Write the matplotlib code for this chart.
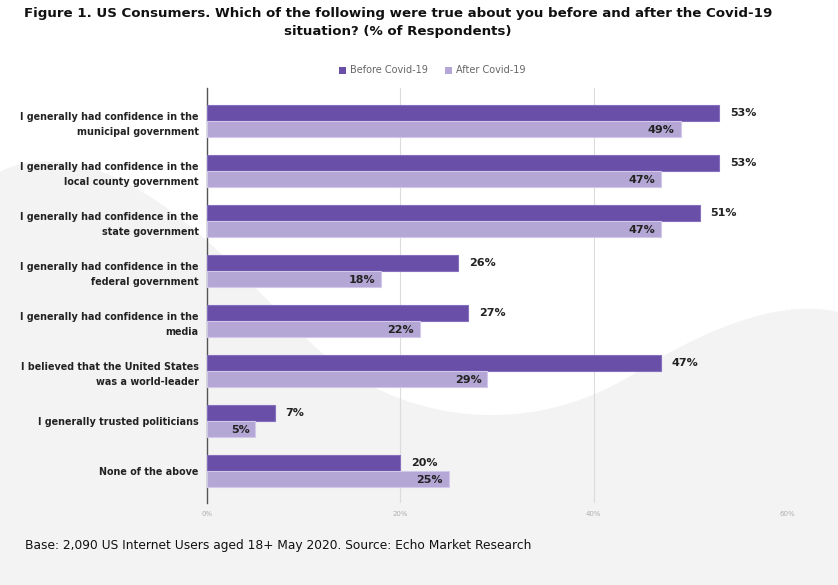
import numpy as np
import matplotlib
matplotlib.use("Agg")
import matplotlib.pyplot as plt
from matplotlib.path import Path
from matplotlib.patches import PathPatch, Rectangle

categories = [
    "I generally had confidence in the\nmunicipal government",
    "I generally had confidence in the\nlocal county government",
    "I generally had confidence in the\nstate government",
    "I generally had confidence in the\nfederal government",
    "I generally had confidence in the\nmedia",
    "I believed that the United States\nwas a world-leader",
    "I generally trusted politicians",
    "None of the above",
]
before = [53, 53, 51, 26, 27, 47, 7, 20]
after = [49, 47, 47, 18, 22, 29, 5, 25]
series_names = ["Before Covid-19", "After Covid-19"]
x_ticks = [0, 20, 40, 60]

C_BEFORE = "#6a4fa8"
C_AFTER = "#b4a7d6"
BG_GREY = "#f3f3f3"

W, H = 838, 585
fig = plt.figure(figsize=(W / 100, H / 100), dpi=100)
fig.patch.set_facecolor("white")

# background swoosh, drawn in pixel coords
bg = fig.add_axes([0, 0, 1, 1], zorder=-10)
bg.set_xlim(0, W)
bg.set_ylim(H, 0)
bg.axis("off")
verts = [
    (0, 172),
    (20, 160), (60, 155), (110, 175),
    (200, 215), (260, 300), (330, 360),
    (420, 428), (540, 435), (640, 370),
    (720, 320), (790, 300), (838, 312),
    (838, H), (0, H), (0, 172),
]
codes = [Path.MOVETO] + [Path.CURVE4] * 12 + [Path.LINETO, Path.LINETO, Path.CLOSEPOLY]
bg.add_patch(PathPatch(Path(verts, codes), facecolor=BG_GREY, edgecolor="none"))

ax = fig.add_axes([207 / W, 1 - 503 / H, (787 - 207) / W, (503 - 88) / H])
ax.patch.set_alpha(0)

n = len(categories)
y = np.arange(n)
h = 0.32
ax.barh(y - h / 2, before, height=h, color=C_BEFORE, edgecolor="#8470bd", linewidth=0.8, zorder=3)
ax.barh(y + h / 2, after, height=h, color=C_AFTER, edgecolor="#d2c9ea", linewidth=0.8, zorder=3)

for i in range(n):
    ax.text(before[i] + 1.1, y[i] - h / 2, f"{before[i]}%", va="center", ha="left",
            fontsize=8, fontweight="bold", color="#222222", zorder=4)
    ax.text(after[i] - 0.6, y[i] + h / 2 + 0.02, f"{after[i]}%", va="center", ha="right",
            fontsize=8, fontweight="bold", color="#222222", zorder=4)

ax.set_xlim(0, 60)
ax.set_ylim(n - 0.35, -0.65)
ax.set_yticks(y)
ax.set_yticklabels(categories, fontsize=6.9, fontweight="bold", color="#222222", linespacing=1.7)
ax.set_xticks(x_ticks)
ax.set_xticklabels([f"{t}%" for t in x_ticks], fontsize=5, color="#b0b0b0")
ax.tick_params(axis="both", length=0)
ax.tick_params(axis="y", pad=6)
ax.tick_params(axis="x", pad=6)
ax.grid(axis="x", color="#dcdcdc", linewidth=0.8, zorder=0)
for s in ["top", "right", "bottom"]:
    ax.spines[s].set_visible(False)
ax.spines["left"].set_color("#555555")
ax.spines["left"].set_linewidth(1)

# legend
leg_y = 1 - 70 / H
for x0, name, col in [(339, series_names[0], C_BEFORE), (445, series_names[1], C_AFTER)]:
    fig.patches.append(Rectangle((x0 / W, leg_y - 3.5 / H), 7 / W, 7 / H, transform=fig.transFigure,
                                 facecolor=col, edgecolor="none"))
    fig.text((x0 + 11) / W, leg_y, name, fontsize=7, color="#666666", va="center", ha="left")

fig.text(0.475, 1 - 7 / H, "Figure 1. US Consumers. Which of the following were true about you before and after the Covid-19\n"
         "situation? (% of Respondents)", ha="center", va="top", fontsize=9.6, fontweight="bold",
         color="#111111", linespacing=1.5)

fig.text(25 / W, 1 - 545 / H, "Base: 2,090 US Internet Users aged 18+ May 2020. Source: Echo Market Research",
         fontsize=8.8, color="#111111", va="center", ha="left")

fig.savefig("out.png", dpi=100, facecolor=fig.get_facecolor())
